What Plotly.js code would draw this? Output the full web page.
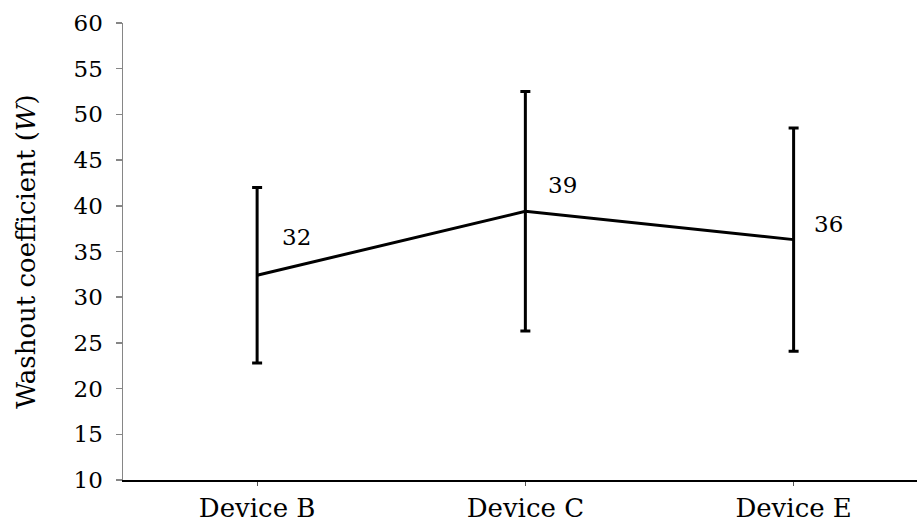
<!DOCTYPE html>
<html>
<head>
<meta charset="utf-8">
<script src="https://cdn.plot.ly/plotly-3.0.1.min.js"></script>
<style>html,body{margin:0;padding:0;background:#fff;}#chart{width:917px;height:523px;}</style>
</head>
<body>
<div id="chart"></div>
<script>
const devices = ["Device B", "Device C", "Device E"];
const washout = [32.4, 39.4, 36.3];
const errorSD = [9.6, 13.1, 12.2];
const yTicks = [10, 15, 20, 25, 30, 35, 40, 45, 50, 55, 60];
const labelShift = [[39, 38], [37, 26], [35, 16]];

const serif = "DejaVu Serif";

const trace = {
  x: devices,
  y: washout,
  type: "scatter",
  mode: "lines",
  line: {color: "#000", width: 3},
  error_y: {type: "data", array: errorSD, visible: true, color: "#000", thickness: 3, width: 5},
  hoverinfo: "skip",
  showlegend: false
};

const annotations = devices.map((d, i) => ({
  x: d, y: washout[i], xref: "x", yref: "y",
  text: String(Math.round(washout[i])),
  showarrow: false,
  xshift: labelShift[i][0], yshift: labelShift[i][1],
  font: {family: serif, size: 23, color: "#000"}
}));

const layout = {
  width: 917, height: 523,
  margin: {l: 123, r: 0, t: 23, b: 43, pad: 0},
  paper_bgcolor: "#fff", plot_bgcolor: "#fff",
  font: {family: serif, color: "#000"},
  xaxis: {
    type: "category",
    range: [-0.5, 2.46],
    showgrid: false, zeroline: false,
    showline: true, linecolor: "#000", linewidth: 1.5,
    ticks: "outside", ticklen: 4, tickcolor: "#555", tickwidth: 1,
    tickfont: {family: serif, size: 26, color: "#000"},
    ticklabelstandoff: 0,
    fixedrange: true
  },
  yaxis: {
    range: [10, 60],
    tickvals: yTicks,
    showgrid: false, zeroline: false,
    showline: true, linecolor: "#868686", linewidth: 1.5,
    ticks: "outside", ticklen: 6, tickcolor: "#868686", tickwidth: 1.5,
    tickfont: {family: serif, size: 23, color: "#000"},
    ticklabelstandoff: 8,
    title: {text: "Washout coefficient (<i>W</i>)", font: {family: serif, size: 26, color: "#000"}, standoff: 30},
    fixedrange: true
  },
  annotations: annotations
};

Plotly.newPlot("chart", [trace], layout, {displayModeBar: false, staticPlot: true});
</script>
</body>
</html>
